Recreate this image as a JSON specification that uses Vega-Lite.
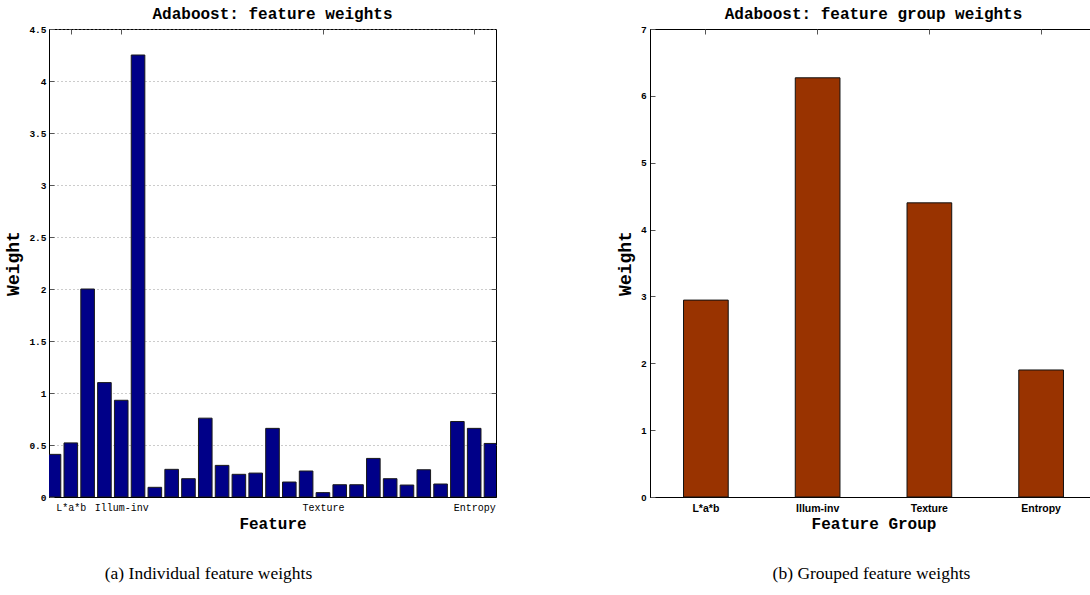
{
  "$schema": "https://vega.github.io/schema/vega-lite/v6.json",
  "background": "white",
  "padding": {"left": 3, "top": 5, "right": 0, "bottom": 5},
  "datasets": {
    "features": [
      {"i": 1, "w": 0.41}, {"i": 2, "w": 0.52}, {"i": 3, "w": 2.0}, {"i": 4, "w": 1.1},
      {"i": 5, "w": 0.93}, {"i": 6, "w": 4.25}, {"i": 7, "w": 0.093}, {"i": 8, "w": 0.266},
      {"i": 9, "w": 0.176}, {"i": 10, "w": 0.758}, {"i": 11, "w": 0.304}, {"i": 12, "w": 0.218},
      {"i": 13, "w": 0.23}, {"i": 14, "w": 0.66}, {"i": 15, "w": 0.144}, {"i": 16, "w": 0.25},
      {"i": 17, "w": 0.042}, {"i": 18, "w": 0.118}, {"i": 19, "w": 0.118}, {"i": 20, "w": 0.371},
      {"i": 21, "w": 0.176}, {"i": 22, "w": 0.115}, {"i": 23, "w": 0.262}, {"i": 24, "w": 0.125},
      {"i": 25, "w": 0.726}, {"i": 26, "w": 0.66}, {"i": 27, "w": 0.515}
    ],
    "groups": [
      {"group": "L*a*b", "w": 2.945},
      {"group": "Illum-inv", "w": 6.27},
      {"group": "Texture", "w": 4.4},
      {"group": "Entropy", "w": 1.9}
    ]
  },
  "bounds": "flush",
  "spacing": 154,
  "hconcat": [
    {
      "width": 447,
      "height": 468,
      "data": {"name": "features"},
      "title": {"text": "Adaboost: feature weights", "font": "Liberation Mono", "fontSize": 16, "fontWeight": "bold", "color": "black", "anchor": "middle", "frame": "group", "offset": 10, "dy": 21, "baseline": "alphabetic"},
      "resolve": {"axis": {"x": "independent", "y": "independent"}},
      "layer": [
        {
          "mark": {"type": "bar", "color": "#000088", "stroke": "#1a1a1a", "strokeWidth": 1, "size": 13.6, "clip": true},
          "encoding": {
            "x": {"field": "i", "type": "quantitative", "scale": {"domain": [1, 27], "nice": false, "zero": false},
              "axis": {"orient": "bottom", "values": [2, 5, 17, 26], "labelExpr": "datum.value == 2 ? 'L*a*b' : datum.value == 5 ? 'Illum-inv' : datum.value == 17 ? 'Texture' : 'Entropy'", "labelFont": "Liberation Mono", "labelFontSize": 10, "labelPadding": 10, "labelFlush": false, "labelOverlap": false, "tickSize": -5, "grid": false, "domainColor": "black", "title": "Feature", "titleFont": "Liberation Mono", "titleFontSize": 16, "titleFontWeight": "bold", "titleY": 31, "titleBaseline": "alphabetic"}},
            "y": {"field": "w", "type": "quantitative", "scale": {"domain": [0, 4.5], "nice": false},
              "axis": {"orient": "left", "values": [0, 0.5, 1, 1.5, 2, 2.5, 3, 3.5, 4, 4.5], "format": "~g", "labelFont": "Liberation Mono", "labelFontSize": 9.5, "labelFontWeight": "bold", "labelPadding": 8, "labelFlush": false, "labelOverlap": false, "tickSize": -5, "grid": true, "gridDash": [1, 3], "gridColor": "#999999", "gridWidth": 1, "domainColor": "black", "title": "Weight", "titleFont": "Liberation Mono", "titleFontSize": 18, "titleFontWeight": "bold", "titleX": -27, "titleY": 234}}
          }
        },
        {
          "mark": {"type": "bar", "opacity": 0, "size": 13.6, "clip": true},
          "encoding": {
            "x": {"field": "i", "type": "quantitative", "axis": {"orient": "top", "values": [2, 5, 17, 26], "labels": false, "tickSize": -5, "domain": false, "grid": false, "title": null}},
            "y": {"field": "w", "type": "quantitative", "axis": {"orient": "right", "values": [0.5, 1, 1.5, 2, 2.5, 3, 3.5, 4], "labels": false, "tickSize": -5, "domain": false, "grid": false, "title": null}}
          }
        },
        {
          "mark": {"type": "bar", "opacity": 0, "size": 13.6, "clip": true},
          "encoding": {
            "x": {"field": "i", "type": "quantitative", "axis": {"orient": "bottom", "labels": false, "ticks": false, "domain": false, "grid": false, "title": "(a) Individual feature weights", "titleFont": "Liberation Serif", "titleFontSize": 17.5, "titleFontWeight": "normal", "titleY": 81, "titleX": 159, "titleBaseline": "alphabetic"}},
            "y": {"field": "w", "type": "quantitative", "axis": null}
          }
        }
      ]
    },
    {
      "width": 447,
      "height": 468,
      "data": {"name": "groups"},
      "title": {"text": "Adaboost: feature group weights", "font": "Liberation Mono", "fontSize": 16, "fontWeight": "bold", "color": "black", "anchor": "middle", "frame": "group", "offset": 10, "dy": 21, "baseline": "alphabetic"},
      "resolve": {"axis": {"x": "independent", "y": "independent"}},
      "layer": [
        {
          "mark": {"type": "bar", "color": "#993300", "stroke": "#111111", "strokeWidth": 1},
          "encoding": {
            "x": {"field": "group", "type": "nominal", "sort": null, "scale": {"domain": ["L*a*b", "Illum-inv", "Texture", "Entropy"], "paddingInner": 0.6, "paddingOuter": 0.3},
              "axis": {"orient": "bottom", "labelAngle": 0, "bandPosition": 0.5, "labelFont": "Liberation Sans", "labelFontSize": 10.5, "labelFontWeight": "bold", "labelPadding": 11, "tickSize": -5, "grid": false, "domainColor": "black", "title": "Feature Group", "titleFont": "Liberation Mono", "titleFontSize": 16, "titleFontWeight": "bold", "titleY": 31, "titleBaseline": "alphabetic"}},
            "y": {"field": "w", "type": "quantitative", "scale": {"domain": [0, 7], "nice": false},
              "axis": {"orient": "left", "values": [0, 1, 2, 3, 4, 5, 6, 7], "labelFont": "Liberation Sans", "labelFontSize": 9.5, "labelFontWeight": "bold", "labelPadding": 9, "labelFlush": false, "labelOverlap": false, "tickSize": -5, "grid": false, "domainColor": "black", "title": "Weight", "titleFont": "Liberation Mono", "titleFontSize": 18, "titleFontWeight": "bold", "titleX": -16, "titleY": 234}}
          }
        },
        {
          "mark": {"type": "bar", "opacity": 0},
          "encoding": {
            "x": {"field": "group", "type": "nominal", "sort": null, "axis": {"orient": "top", "bandPosition": 0.5, "labels": false, "tickSize": -5, "domain": false, "grid": false, "title": null}},
            "y": {"field": "w", "type": "quantitative", "axis": {"orient": "right", "values": [1, 2, 3, 4, 5, 6], "labels": false, "tickSize": -5, "domain": false, "grid": false, "title": null}}
          }
        },
        {
          "mark": {"type": "bar", "opacity": 0},
          "encoding": {
            "x": {"field": "group", "type": "nominal", "sort": null, "axis": {"orient": "bottom", "labels": false, "ticks": false, "domain": false, "grid": false, "title": "(b) Grouped feature weights", "titleFont": "Liberation Serif", "titleFontSize": 17.5, "titleFontWeight": "normal", "titleY": 81, "titleX": 221, "titleBaseline": "alphabetic"}},
            "y": {"field": "w", "type": "quantitative", "axis": null}
          }
        }
      ]
    }
  ],
  "config": {
    "view": {"stroke": "black", "strokeWidth": 1},
    "axis": {"tickColor": "#555555", "labelColor": "black", "titleColor": "black", "domainWidth": 1, "tickWidth": 1}
  }
}
